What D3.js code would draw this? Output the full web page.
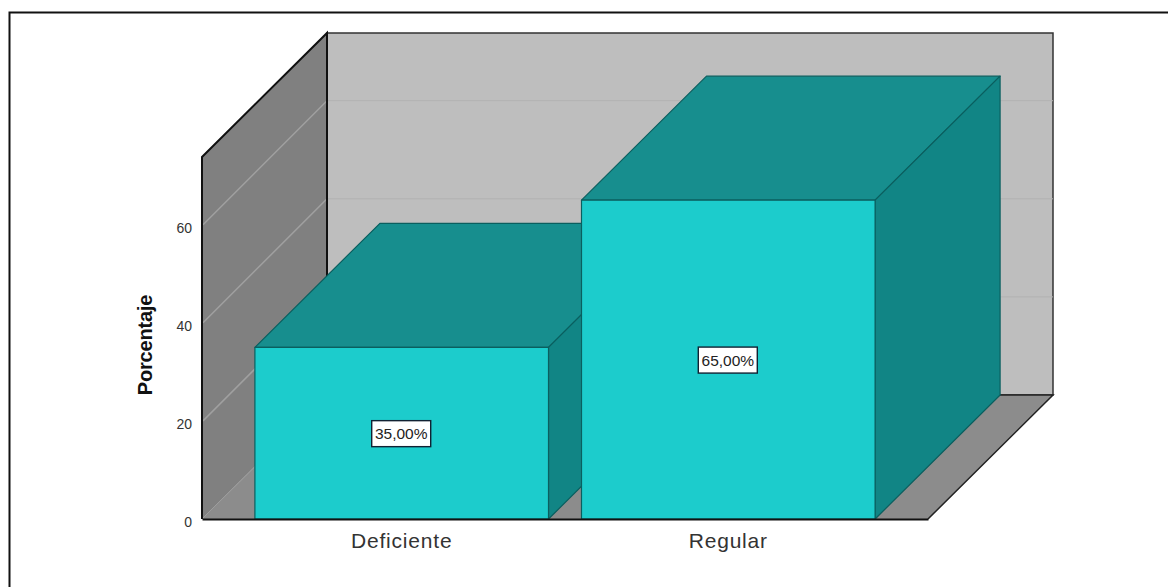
<!DOCTYPE html>
<html>
<head>
<meta charset="utf-8">
<script src="https://d3js.org/d3.v7.min.js"></script>
<style>
  html, body { margin: 0; padding: 0; background: #fff; }
  svg { display: block; }
  text { font-family: "Liberation Sans", Arial, sans-serif; }
</style>
</head>
<body>
<div id="chart"></div>
<script>
var categories = ["Deficiente", "Regular"];
var percentages = [35, 65];
var valueLabels = ["35,00%", "65,00%"];
var yTicks = [0, 20, 40, 60];
var yLabel = "Porcentaje";
var yTop = 73.8;

var width = 1168, height = 587;
var plotLeft = 202, plotRight = 928, plotBottom = 519, plotTop = 157;
// how far the box recedes into the page
var depthX = 125, depthY = -124;

var svg = d3.select("#chart").append("svg")
  .attr("width", width)
  .attr("height", height);

var x = d3.scaleBand()
  .domain(categories)
  .range([plotLeft, plotRight])
  .paddingInner(0.101)
  .paddingOuter(0.162);

var y = d3.scaleLinear()
  .domain([0, yTop])
  .range([plotBottom, plotTop]);

// turns a list of [x, y, depth 0..1] into polygon points
function face(pts) {
  return pts.map(function (p) {
    var d = p[2] || 0;
    return [p[0] + d * depthX, p[1] + d * depthY].join(",");
  }).join(" ");
}

// outer frame, only the top and left edges show
svg.append("polyline")
  .attr("points", "9.5," + height + " 9.5,12.5 " + width + ",12.5")
  .attr("fill", "none")
  .attr("stroke", "#111")
  .attr("stroke-width", 2);

// back wall
svg.append("polygon")
  .attr("points", face([[plotLeft, y(yTop), 1], [plotRight, y(yTop), 1], [plotRight, y(0), 1], [plotLeft, y(0), 1]]))
  .attr("fill", "#bebebe")
  .attr("stroke", "#333")
  .attr("stroke-width", 1.5);

// left wall
svg.append("polygon")
  .attr("points", face([[plotLeft, y(yTop), 0], [plotLeft, y(yTop), 1], [plotLeft, y(0), 1], [plotLeft, y(0), 0]]))
  .attr("fill", "#808080");

// floor
svg.append("polygon")
  .attr("points", face([[plotLeft, y(0), 0], [plotRight, y(0), 0], [plotRight, y(0), 1], [plotLeft, y(0), 1]]))
  .attr("fill", "#8c8c8c");

// gridlines on the two walls
var grid = yTicks.filter(function (d) { return d > 0; });
svg.append("g").selectAll("line.side")
  .data(grid)
  .enter().append("line")
  .attr("x1", plotLeft + 1).attr("y1", function (d) { return y(d); })
  .attr("x2", plotLeft + depthX).attr("y2", function (d) { return y(d) + depthY; })
  .attr("stroke", "#a0a0a0")
  .attr("stroke-width", 1.5);

svg.append("g").selectAll("line.back")
  .data(grid)
  .enter().append("line")
  .attr("x1", plotLeft + depthX).attr("y1", function (d) { return y(d) + depthY; })
  .attr("x2", plotRight + depthX).attr("y2", function (d) { return y(d) + depthY; })
  .attr("stroke", "#b2b2b2")
  .attr("stroke-width", 1);

// faint seam between left wall and floor
svg.append("line")
  .attr("x1", plotLeft).attr("y1", y(0))
  .attr("x2", plotLeft + depthX).attr("y2", y(0) + depthY)
  .attr("stroke", "#9a9a9a")
  .attr("stroke-width", 0.8);

// box edges
svg.append("polyline")
  .attr("points", face([[plotLeft, y(0), 0], [plotLeft, y(yTop), 0], [plotLeft, y(yTop), 1], [plotLeft, y(0), 1]]))
  .attr("fill", "none")
  .attr("stroke", "#111")
  .attr("stroke-width", 2);

svg.append("polyline")
  .attr("points", face([[plotRight, y(0), 0], [plotRight, y(0), 1], [plotLeft, y(0), 1]]))
  .attr("fill", "none")
  .attr("stroke", "#222")
  .attr("stroke-width", 1.5);

// bars
var bars = svg.append("g").selectAll("g")
  .data(categories)
  .enter().append("g")
  .attr("stroke", "#0a5f5f")
  .attr("stroke-width", 1.2)
  .attr("stroke-linejoin", "round");

bars.append("polygon")
  .attr("fill", "#178e8e")
  .attr("points", function (d, i) {
    var x0 = x(d), x1 = x0 + x.bandwidth(), t = y(percentages[i]);
    return face([[x0, t, 0], [x1, t, 0], [x1, t, 1], [x0, t, 1]]);
  });

bars.append("polygon")
  .attr("fill", "#118585")
  .attr("points", function (d, i) {
    var x1 = x(d) + x.bandwidth(), t = y(percentages[i]);
    return face([[x1, t, 0], [x1, t, 1], [x1, y(0), 1], [x1, y(0), 0]]);
  });

bars.append("rect")
  .attr("fill", "#1ccccc")
  .attr("x", function (d) { return x(d); })
  .attr("y", function (d, i) { return y(percentages[i]); })
  .attr("width", x.bandwidth())
  .attr("height", function (d, i) { return y(0) - y(percentages[i]); });

// value labels
var labels = svg.append("g").selectAll("g")
  .data(categories)
  .enter().append("g")
  .attr("transform", function (d, i) {
    return "translate(" + (x(d) + x.bandwidth() / 2) + "," + (y(percentages[i] / 2) + 0.5) + ")";
  });

labels.append("rect")
  .attr("x", -30).attr("y", -13)
  .attr("width", 59).attr("height", 26)
  .attr("fill", "#fff")
  .attr("stroke", "#123")
  .attr("stroke-width", 1.4);

labels.append("text")
  .attr("x", -0.5)
  .attr("text-anchor", "middle")
  .attr("dy", "0.36em")
  .attr("font-size", 15.5)
  .attr("fill", "#222")
  .text(function (d, i) { return valueLabels[i]; });

// axes
var yAxis = svg.append("g")
  .attr("transform", "translate(" + plotLeft + ",3.5)")
  .call(d3.axisLeft(y).tickValues(yTicks).tickSize(0).tickPadding(10));
yAxis.select(".domain").remove();
yAxis.selectAll("text")
  .attr("font-size", 14)
  .attr("fill", "#333")
  .style("font-family", "\"Liberation Sans\", Arial, sans-serif");

var xAxis = svg.append("g")
  .attr("transform", "translate(0," + plotBottom + ")")
  .call(d3.axisBottom(x).tickSize(0).tickPadding(14));
xAxis.select(".domain")
  .attr("stroke", "#111")
  .attr("stroke-width", 2);
xAxis.selectAll("text")
  .attr("font-size", 21)
  .attr("letter-spacing", 0.8)
  .attr("fill", "#333")
  .style("font-family", "\"Liberation Sans\", Arial, sans-serif");

svg.append("text")
  .attr("transform", "translate(151.5,345) rotate(-90)")
  .attr("text-anchor", "middle")
  .attr("font-size", 20)
  .attr("font-weight", "bold")
  .attr("letter-spacing", -0.2)
  .attr("fill", "#111")
  .text(yLabel);
</script>
</body>
</html>
